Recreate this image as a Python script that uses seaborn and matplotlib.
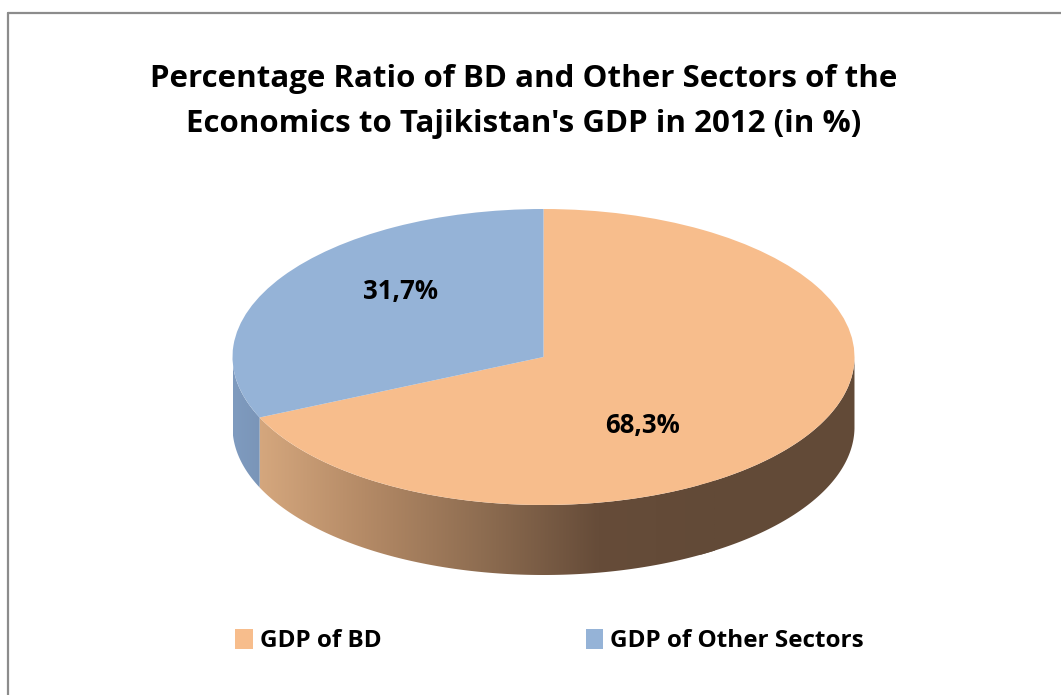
import numpy as np
import matplotlib
matplotlib.use("Agg")
import matplotlib.pyplot as plt
import seaborn as sns
from matplotlib.patches import Polygon, Patch
from matplotlib.colors import LinearSegmentedColormap
from matplotlib.lines import Line2D

# Data
categories = ["GDP of BD", "GDP of Other Sectors"]
shares = [68.3, 31.7]
title_lines = ["Percentage Ratio of BD and Other Sectors of the",
               "Economics to Tajikistan's GDP in 2012 (in %)"]

top_colors = ["#F7BD8C", "#95B3D7"]
side_colors = [["#D8AA80", "#B48A66", "#8E6D51", "#664C39", "#624A37"],
               ["#7F9BBF", "#7A95B8"]]

sns.set_theme(style="white")
plt.rcParams["font.family"] = ["Open Sans", "DejaVu Sans"]
plt.rcParams["text.color"] = "black"

W, H = 1061, 695
fig = plt.figure(figsize=(W / 100, H / 100), dpi=100)
ax = fig.add_axes([0, 0, 1, 1])

# Pie geometry in pixels: unit circle squashed into an ellipse
cx, cy = 543.5, 357.0
rx, ry = 311.0, 148.0
depth = 70.0 / ry

# Side (extruded rim) of the pie, drawn under the top face
fracs = np.array(shares) / sum(shares)
start = 90.0
angles = []
for f in fracs:
    end = start - 360 * f
    angles.append((end, start))
    start = end

for i, (a0, a1) in enumerate(angles):
    lo, hi = np.radians(a0), np.radians(a1)
    ts = np.linspace(lo, hi, 400)
    ts = ts[np.sin(ts) <= 0.0005]
    if len(ts) < 2:
        continue
    top = np.column_stack([np.cos(ts), np.sin(ts)])
    bot = np.column_stack([np.cos(ts[::-1]), np.sin(ts[::-1]) - depth])
    poly = Polygon(np.vstack([top, bot]), closed=True, facecolor="none",
                   edgecolor="none", zorder=1)
    ax.add_patch(poly)
    cmap = LinearSegmentedColormap.from_list(f"rim{i}", side_colors[i])
    if i == 0:
        xmin, xmax = -0.95, 0.55
        # dark tone continues to the right edge of the rim
        ax.add_patch(Polygon(np.vstack([top[top[:, 0] >= 0.5], bot[bot[:, 0] >= 0.5]]),
                             closed=True, facecolor=side_colors[0][-1],
                             edgecolor="none", zorder=0.9))
    else:
        xmin, xmax = top[:, 0].min(), top[:, 0].max()
    grad = np.linspace(0, 1, 256).reshape(1, -1)
    im = ax.imshow(grad, cmap=cmap, aspect="auto", interpolation="bilinear",
                   extent=[xmin, xmax, -1 - depth, 0.2], zorder=1)
    im.set_clip_path(poly)

wedges, _ = ax.pie(shares, colors=top_colors, startangle=90, counterclock=False,
                   radius=1.0, wedgeprops=dict(linewidth=0))
for w in wedges:
    w.set_zorder(3)

ax.set_aspect("auto")
ax.set_xlim(-cx / rx, (W - cx) / rx)
ax.set_ylim(-(H - cy) / ry, cy / ry)
ax.axis("off")

# Percentage labels (positions in pixel space of the figure)
label_px = [(642, 423), (400, 288)]
for v, (px, py) in zip(shares, label_px):
    ax.text((px - cx) / rx, (cy - py) / ry, f"{v:.1f}".replace(".", ",") + "%",
            ha="center", va="center_baseline", fontsize=18.5, fontweight="bold",
            color="black", zorder=5)

# Title
fig.text(524 / W, 1 - 87 / H, title_lines[0], ha="center", va="baseline",
         fontsize=22.5, fontweight="bold")
fig.text(524 / W, 1 - 132 / H, title_lines[1], ha="center", va="baseline",
         fontsize=22.5, fontweight="bold")

# Legend
handles = [Patch(facecolor=c, edgecolor="none") for c in top_colors]
fig.legend(handles, categories, loc="center left", ncol=2,
           bbox_to_anchor=(235 / W, 1 - 641 / H), frameon=False, borderpad=0,
           borderaxespad=0, prop=dict(size=17.5, weight="bold"),
           handlelength=0.72, handleheight=0.9, handletextpad=0.3,
           columnspacing=8.4)

# Outer frame
fig.add_artist(Line2D([7.5 / W, 1], [1 - 12.5 / H, 1 - 12.5 / H],
                      transform=fig.transFigure, color="#8C8C8C", lw=1.6))
fig.add_artist(Line2D([7.5 / W, 7.5 / W], [0, 1 - 12.5 / H],
                      transform=fig.transFigure, color="#8C8C8C", lw=1.6))

fig.savefig("out.png", dpi=100)
